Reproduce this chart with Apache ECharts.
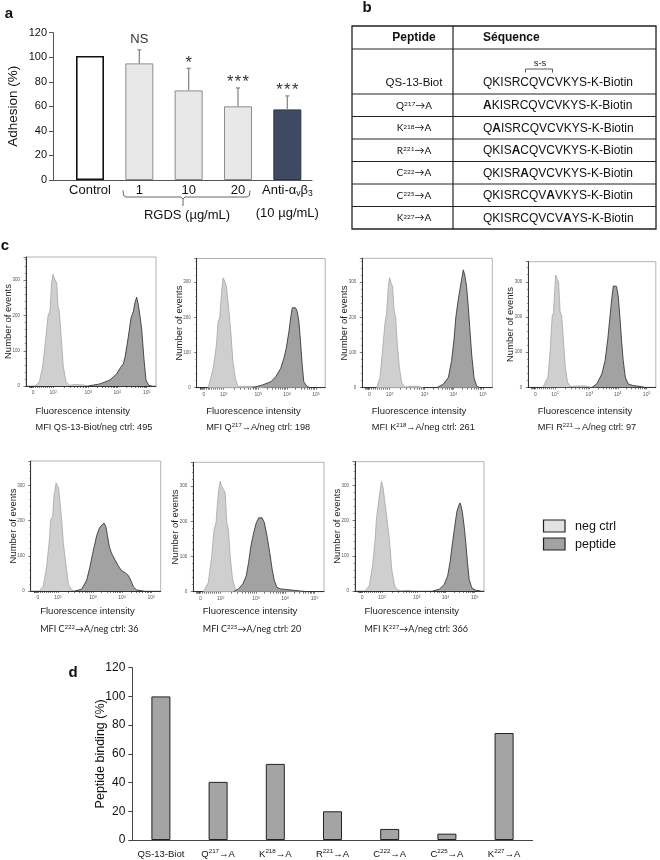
<!DOCTYPE html>
<html>
<head>
<meta charset="utf-8">
<title>QS-13 peptide figure</title>
<script src="https://cdn.jsdelivr.net/npm/echarts@6/dist/echarts.min.js"></script>
<style>
  html, body { margin: 0; padding: 0; background: #fff; }
  #fig { width: 660px; height: 860px; }
</style>
</head>
<body>
<div id="fig"></div>
<script>
// ---------- panel a : adhesion ----------
const adhesionGroups = ['Control', '1', '10', '20', 'Anti-αvβ3'];
const adhesionDose = ['', '', '', '', '(10 µg/mL)'];
const adhesionMean = [101, 95, 73, 60, 57.5];
const adhesionErr = [0, 11, 18, 15, 11];
const adhesionSig = ['', 'NS', '*', '***', '***'];

// ---------- panel b : peptides ----------
const wildSeq = 'QKISRCQVCVKYS';
const seqTail = '-K-Biotin';
const firstPos = 217;
const mutPositions = [217, 218, 221, 222, 225, 227];

// ---------- panel c : histograms, [channel, events] ----------
const decadeExp = ['', '2', '3', '4', '5'];
const decadeChannels = [55, 210, 479, 702, 928];
const mfiRatio = [495, 198, 261, 97, 36, 20, 366];

const negQS = [[69,0],[103,12],[128,55],[151,131],[169,198],[185,215],[197,293],[208,317],[221,303],[236,293],[246,227],[256,212],[272,131],[287,55],[308,12],[333,2],[377,4],[441,3],[479,0]];
const pepQS = [[479,0],[569,6],[646,17],[697,34],[728,53],[749,63],[762,82],[787,139],[808,193],[826,212],[838,236],[851,252],[864,231],[877,198],[890,160],[908,74],[923,17],[944,2],[967,0]];
const negQ217 = [[90,0],[128,55],[154,122],[167,189],[179,198],[192,264],[205,312],[218,303],[231,289],[244,284],[256,198],[269,141],[282,74],[300,27],[321,3],[390,4],[467,3],[518,0]];
const pepQ217 = [[436,0],[513,8],[577,17],[615,31],[654,55],[679,84],[697,112],[718,160],[733,203],[744,227],[756,231],[769,227],[782,217],[795,189],[808,131],[821,65],[833,17],[859,3],[885,0]];
const negK218 = [[110,0],[136,29],[156,106],[174,183],[187,212],[200,288],[210,313],[221,298],[233,288],[244,221],[256,202],[269,125],[285,58],[303,14],[328,2],[379,4],[431,4],[469,0]];
const pepK218 = [[572,0],[623,10],[662,29],[687,77],[705,135],[720,202],[738,250],[751,279],[764,308],[777,335],[790,317],[802,288],[815,231],[828,163],[841,96],[859,29],[879,5],[905,0]];
const negR221 = [[115,0],[154,29],[172,106],[187,202],[197,212],[208,279],[215,319],[226,308],[238,298],[249,216],[262,202],[277,125],[290,58],[308,14],[333,2],[385,4],[449,4],[487,0]];
const pepR221 = [[500,0],[538,10],[577,38],[603,77],[623,135],[641,202],[654,250],[667,288],[679,290],[692,287],[705,260],[718,202],[731,135],[744,77],[761,29],[782,10],[820,5],[885,2],[910,0]];
const negC222 = [[67,0],[97,14],[123,71],[144,146],[154,203],[169,212],[179,269],[195,307],[205,302],[215,292],[226,288],[236,212],[251,137],[272,71],[290,19],[315,3],[341,0]];
const pepC222 = [[341,0],[392,5],[431,31],[456,69],[482,116],[508,158],[528,178],[546,187],[564,193],[579,182],[590,158],[605,125],[623,106],[649,88],[674,71],[700,57],[726,52],[751,44],[769,31],[790,12],[815,3],[867,0]];
const negC225 = [[77,0],[115,26],[141,102],[159,177],[174,196],[185,253],[195,291],[205,314],[218,300],[231,291],[244,281],[256,196],[269,177],[282,102],[300,36],[321,8],[346,0]];
const pepC225 = [[308,0],[346,8],[379,22],[405,45],[423,83],[441,130],[462,168],[482,196],[500,210],[513,215],[526,210],[544,196],[564,158],[585,111],[603,64],[620,31],[641,12],[667,8],[718,6],[769,4],[820,2],[872,0]];
const negK227 = [[77,0],[110,14],[136,71],[156,146],[167,208],[179,212],[192,278],[205,311],[218,292],[231,288],[244,217],[256,212],[269,137],[285,61],[308,14],[333,3],[359,0],[397,2],[449,0]];
const pepK227 = [[603,0],[654,5],[692,19],[718,42],[736,80],[756,137],[777,193],[790,226],[803,241],[813,250],[823,241],[833,222],[846,184],[859,137],[872,80],[885,33],[905,9],[936,2],[974,0]];

const histNeg = [negQS, negQ217, negK218, negR221, negC222, negC225, negK227];
const histPep = [pepQS, pepQ217, pepK218, pepR221, pepC222, pepC225, pepK227];

// ---------- panel d : binding ----------
const bindingPercent = [100, 40.5, 53, 20, 7.7, 4.4, 74.5];

// ---------- layout ----------
const F = "'Liberation Sans', Arial, sans-serif";
const FC = "Lato, 'Open Sans', sans-serif";
const histBoxes = [
  [26, 257, 130, 129],
  [196.7, 258.5, 128.5, 129.2],
  [362.3, 258.3, 130, 129.4],
  [528.3, 261.7, 127.5, 125.6],
  [30.7, 461, 130, 130],
  [193.3, 462.3, 130.7, 129.4],
  [355, 461.7, 129, 129.3]
];

function mutName(pos) {
  return wildSeq[pos - firstPos] + '{sup|' + pos + '}→A';
}
function mutSequence(pos) {
  const i = pos - firstPos;
  return wildSeq.slice(0, i) + '{b|A}' + wildSeq.slice(i + 1) + seqTail;
}
const peptideNames = ['QS-13-Biot'].concat(mutPositions.map(mutName));

// tick marks for the biexponential axis
const histTicks = [];
for (let c = 25; c < decadeChannels[0]; c += 6) histTicks.push(c);
for (let k = 0; k < 10; k++) histTicks.push(decadeChannels[0] + (decadeChannels[1] - decadeChannels[0]) * k / 10);
for (let d = 1; d < decadeChannels.length - 1; d++) {
  for (let k = 1; k < 10; k++) {
    histTicks.push(decadeChannels[d] + Math.log10(k) * (decadeChannels[d + 1] - decadeChannels[d]));
  }
}
histTicks.push(decadeChannels[decadeChannels.length - 1]);

const chart = echarts.init(document.getElementById('fig'));
const grids = [], xAxes = [], yAxes = [], series = [], graphics = [];

// ----- panel a -----
grids.push({ left: 53, top: 32.7, width: 259, height: 147.3 });
xAxes.push({
  gridIndex: 0, type: 'value', min: -0.75, max: 4.5,
  splitLine: { show: false }, axisTick: { show: false },
  axisLine: { onZero: false, lineStyle: { color: '#555', width: 1 } },
  axisLabel: {
    customValues: adhesionGroups.map((_, i) => i), margin: 2,
    formatter: function (v) {
      const name = adhesionGroups[v];
      let s = name.indexOf('Anti') === 0 ? '{t|Anti-α}{sub|v}{t|β}{sub|3}' : '{t|' + name + '}';
      if (adhesionDose[v]) s += '\n{l2|' + adhesionDose[v] + '}';
      return s;
    },
    rich: {
      t: { fontSize: 13, lineHeight: 16, fontFamily: F, color: '#111' },
      sub: { fontSize: 8.5, lineHeight: 16, verticalAlign: 'bottom', fontFamily: F, color: '#111' },
      l2: { fontSize: 13, lineHeight: 30, fontFamily: F, color: '#111' }
    }
  }
});
yAxes.push({
  gridIndex: 0, type: 'value', min: 0, max: 120, interval: 20,
  splitLine: { show: false },
  axisLine: { show: true, onZero: false, lineStyle: { color: '#555', width: 1 } },
  axisTick: { show: true, length: 4, lineStyle: { color: '#555' } },
  axisLabel: { fontSize: 11, margin: 6, color: '#111', fontFamily: F },
  name: 'Adhesion (%)', nameLocation: 'middle', nameGap: 33, nameMoveOverlap: false,
  nameTextStyle: { fontSize: 13.5, color: '#111', fontFamily: F }
});
const adhesionStyles = [
  { color: '#ffffff', borderColor: '#111', borderWidth: 1.6 },
  { color: '#e8e8e8', borderColor: '#8c8c8c', borderWidth: 1 },
  { color: '#e8e8e8', borderColor: '#8c8c8c', borderWidth: 1 },
  { color: '#e8e8e8', borderColor: '#8c8c8c', borderWidth: 1 },
  { color: '#3e4a64', borderColor: '#2c3548', borderWidth: 1 }
];
series.push({
  type: 'bar', xAxisIndex: 0, yAxisIndex: 0, barWidth: 28,
  data: adhesionMean.map((v, i) => ({ value: [i, v], itemStyle: adhesionStyles[i] }))
});
series.push({
  type: 'custom', xAxisIndex: 0, yAxisIndex: 0, z: 5,
  data: adhesionMean.map((v, i) => [i, v, adhesionErr[i]]),
  renderItem: function (params, api) {
    const x = api.value(0), v = api.value(1), e = api.value(2);
    const base = api.coord([x, v]);
    const top = api.coord([x, v + e]);
    const kids = [];
    if (e > 0) {
      kids.push({ type: 'line', shape: { x1: base[0], y1: base[1], x2: top[0], y2: top[1] }, style: { stroke: '#8a8a8a', lineWidth: 1.3 } });
      kids.push({ type: 'line', shape: { x1: top[0] - 2, y1: top[1], x2: top[0] + 2, y2: top[1] }, style: { stroke: '#8a8a8a', lineWidth: 1.3 } });
    }
    const sig = adhesionSig[params.dataIndex];
    if (sig) {
      const isNS = sig === 'NS';
      kids.push({
        type: 'text', x: top[0], y: top[1] - (isNS ? 10.5 : 5.2),
        style: {
          text: isNS ? sig : sig.split('').join('\u200a'),
          fontSize: isNS ? 13 : 16.5, fontFamily: F, fill: '#333',
          align: 'center', verticalAlign: 'middle'
        }
      });
    }
    return { type: 'group', children: kids };
  }
});

// ----- panel d -----
grids.push({ left: 132.3, top: 667.7, width: 400.4, height: 172.3 });
xAxes.push({
  gridIndex: 1, type: 'category', data: peptideNames,
  axisTick: { show: false },
  axisLine: { onZero: false, lineStyle: { color: '#444', width: 1 } },
  axisLabel: {
    margin: 8, interval: 0,
    formatter: function (v) { return v.indexOf('{') >= 0 ? '{n|' + v.replace('{sup|', '}{sup|').replace('}→A', '}{n|→A') + '}' : '{n|' + v + '}'; },
    rich: {
      n: { fontSize: 9.5, fontFamily: F, color: '#111', lineHeight: 12 },
      sup: { fontSize: 6.2, fontFamily: F, color: '#111', verticalAlign: 'top', lineHeight: 12 }
    }
  }
});
yAxes.push({
  gridIndex: 1, type: 'value', min: 0, max: 120, interval: 20,
  splitLine: { show: false },
  axisLine: { show: true, onZero: false, lineStyle: { color: '#444', width: 1 } },
  axisTick: { show: true, length: 4, lineStyle: { color: '#444' } },
  axisLabel: { fontSize: 12, margin: 7, color: '#111', fontFamily: F },
  name: 'Peptide binding (%)', nameLocation: 'middle', nameGap: 25, nameMoveOverlap: false,
  nameTextStyle: { fontSize: 12.5, color: '#111', fontFamily: F }
});
series.push({
  type: 'bar', xAxisIndex: 1, yAxisIndex: 1, barWidth: 19,
  itemStyle: { color: '#a4a4a4', borderColor: '#222', borderWidth: 1 },
  data: bindingPercent
});

// ----- panel c -----
histBoxes.forEach(function (b, k) {
  const gi = grids.length;
  grids.push({ left: b[0], top: b[1], width: b[2], height: b[3], show: true, borderColor: '#a0a0a0', borderWidth: 0.8 });
  xAxes.push({
    gridIndex: gi, type: 'value', min: 0, max: 1000,
    splitLine: { show: false },
    axisLine: { onZero: false, lineStyle: { color: '#222', width: 0.9 } },
    axisTick: { show: true, customValues: histTicks, length: 2, lineStyle: { color: '#222', width: 0.6 } },
    axisLabel: {
      customValues: decadeChannels, margin: 4,
      formatter: function (v) {
        const e = decadeExp[decadeChannels.indexOf(v)];
        return e ? '{m|10}{e|' + e + '}' : '{m|0}';
      },
      rich: {
        m: { fontSize: 5, color: '#555', fontFamily: F, lineHeight: 6 },
        e: { fontSize: 3.5, color: '#555', fontFamily: F, verticalAlign: 'top', lineHeight: 6 }
      }
    }
  });
  yAxes.push({
    gridIndex: gi, type: 'value', min: 0, max: Math.round(b[3] / 0.352), interval: 100,
    splitLine: { show: false },
    axisLine: { show: true, onZero: false, lineStyle: { color: '#222', width: 0.9 } },
    axisTick: { show: true, length: 2.5, lineStyle: { color: '#222', width: 0.6 } },
    minorTick: { show: true, splitNumber: 5, length: 1.4, lineStyle: { color: '#444', width: 0.5 } },
    axisLabel: { fontSize: 4.5, margin: 6, color: '#555', fontFamily: F, formatter: function (v) { return v % 100 === 0 ? String(v) : ''; } },
    name: 'Number of events', nameLocation: 'middle', nameGap: 12.5, nameMoveOverlap: false,
    nameTextStyle: { fontSize: 9.5, color: '#222', fontFamily: F }
  });
  series.push({
    type: 'line', name: 'neg ctrl', xAxisIndex: gi, yAxisIndex: gi, data: histNeg[k],
    symbol: 'none', silent: true,
    lineStyle: { color: '#a6a6a6', width: 0.8 },
    areaStyle: { color: '#cfcfcf', opacity: 1 }
  });
  series.push({
    type: 'line', name: 'peptide', xAxisIndex: gi, yAxisIndex: gi, data: histPep[k],
    symbol: 'none', silent: true,
    lineStyle: { color: '#3a3a3a', width: 0.9 },
    areaStyle: { color: '#a2a2a2', opacity: 1 }
  });

  const row2 = k >= 4;
  graphics.push({
    type: 'text', x: b[0] + 9.5, y: row2 ? 611 : 411,
    style: { text: 'Fluorescence intensity', fontSize: 9.5, fontFamily: F, fill: '#222', align: 'left', verticalAlign: 'middle' }
  });
  const label = k === 0 ? 'MFI QS-13-Biot/neg ctrl: ' + mfiRatio[k]
    : 'MFI ' + mutName(mutPositions[k - 1]) + '/neg ctrl: ' + mfiRatio[k];
  const fam = row2 ? FC : F;
  graphics.push({
    type: 'text', x: b[0] + 9.5, y: row2 ? 629 : 427,
    style: {
      text: label, fontSize: row2 ? 9 : 9.2, fontFamily: fam, fill: '#222', align: 'left', verticalAlign: 'middle',
      rich: { sup: { fontSize: 6, fontFamily: fam, fill: '#222', verticalAlign: 'top' } }
    }
  });
});

// ----- panel letters -----
[['a', 9, 14], ['b', 367, 8], ['c', 5, 246], ['d', 73, 673]].forEach(function (p) {
  graphics.push({ type: 'text', x: p[1], y: p[2], style: { text: p[0], fontSize: 15, fontWeight: 'bold', fontFamily: F, fill: '#111', align: 'center', verticalAlign: 'middle' } });
});

// ----- RGDS bracket -----
graphics.push({ type: 'polyline', shape: { points: [[123, 190.5], [123.6, 195.5], [126, 197], [181, 197], [183, 199], [185, 197], [247, 197], [249.4, 195.5], [250, 190.5]] }, style: { stroke: '#555', lineWidth: 0.9, fill: null } });
graphics.push({ type: 'line', shape: { x1: 183, y1: 199, x2: 183, y2: 206 }, style: { stroke: '#555', lineWidth: 0.9 } });
graphics.push({ type: 'text', x: 187, y: 215, style: { text: 'RGDS (µg/mL)', fontSize: 13, fontFamily: F, fill: '#111', align: 'center', verticalAlign: 'middle' } });

// ----- panel b table -----
const tL = 352, tM = 453, tR = 656, tT = 26, tB = 229;
const rowLines = [49, 94, 116.5, 139, 161.5, 184, 206.5];
graphics.push({ type: 'rect', shape: { x: tL, y: tT, width: tR - tL, height: tB - tT }, style: { fill: null, stroke: '#222', lineWidth: 1.3 } });
graphics.push({ type: 'line', shape: { x1: tM, y1: tT, x2: tM, y2: tB }, style: { stroke: '#222', lineWidth: 1.2 } });
rowLines.forEach(function (y) {
  graphics.push({ type: 'line', shape: { x1: tL, y1: y, x2: tR, y2: y }, style: { stroke: '#222', lineWidth: 1 } });
});
graphics.push({ type: 'text', x: 414, y: 38, style: { text: 'Peptide', fontSize: 12, fontWeight: 'bold', fontFamily: F, fill: '#111', align: 'center', verticalAlign: 'middle' } });
graphics.push({ type: 'text', x: 483, y: 38, style: { text: 'Séquence', fontSize: 12, fontWeight: 'bold', fontFamily: F, fill: '#111', align: 'left', verticalAlign: 'middle' } });
graphics.push({ type: 'text', x: 540, y: 63, style: { text: 's-s', fontSize: 9.5, fontFamily: F, fill: '#222', align: 'center', verticalAlign: 'middle' } });
graphics.push({ type: 'polyline', shape: { points: [[525.5, 72.5], [525.5, 69], [552.5, 69], [552.5, 72.5]] }, style: { stroke: '#333', lineWidth: 0.8, fill: null } });
graphics.push({ type: 'text', x: 414, y: 83, style: { text: peptideNames[0], fontSize: 11.5, fontFamily: F, fill: '#111', align: 'center', verticalAlign: 'middle' } });
graphics.push({ type: 'text', x: 483, y: 83, style: { text: wildSeq + seqTail, fontSize: 12, fontFamily: F, fill: '#111', align: 'left', verticalAlign: 'middle' } });
mutPositions.forEach(function (pos, r) {
  const y = (rowLines[r + 1] + (r + 2 < rowLines.length ? rowLines[r + 2] : tB)) / 2 + 0.5;
  graphics.push({
    type: 'text', x: 414, y: y,
    style: { text: mutName(pos), fontSize: 10, fontFamily: FC, fill: '#111', align: 'center', verticalAlign: 'middle',
      rich: { sup: { fontSize: 6.5, fontFamily: FC, fill: '#111', verticalAlign: 'top' } } }
  });
  graphics.push({
    type: 'text', x: 483, y: y,
    style: { text: mutSequence(pos), fontSize: 12, fontFamily: F, fill: '#111', align: 'left', verticalAlign: 'middle',
      rich: { b: { fontSize: 12, fontWeight: 'bold', fontFamily: F, fill: '#111' } } }
  });
});

// ----- histogram legend -----
[['neg ctrl', '#e2e2e2', 520], ['peptide', '#a3a3a3', 538]].forEach(function (l) {
  graphics.push({ type: 'rect', shape: { x: 543.5, y: l[2], width: 21.5, height: 12 }, style: { fill: l[1], stroke: '#222', lineWidth: 1.2 } });
  graphics.push({ type: 'text', x: 575, y: l[2] + 6.5, style: { text: l[0], fontSize: 12.5, fontFamily: F, fill: '#111', align: 'left', verticalAlign: 'middle' } });
});

chart.setOption({
  animation: false,
  backgroundColor: '#ffffff',
  textStyle: { fontFamily: F },
  grid: grids,
  xAxis: xAxes,
  yAxis: yAxes,
  series: series,
  graphic: { elements: graphics }
});
</script>
</body>
</html>
